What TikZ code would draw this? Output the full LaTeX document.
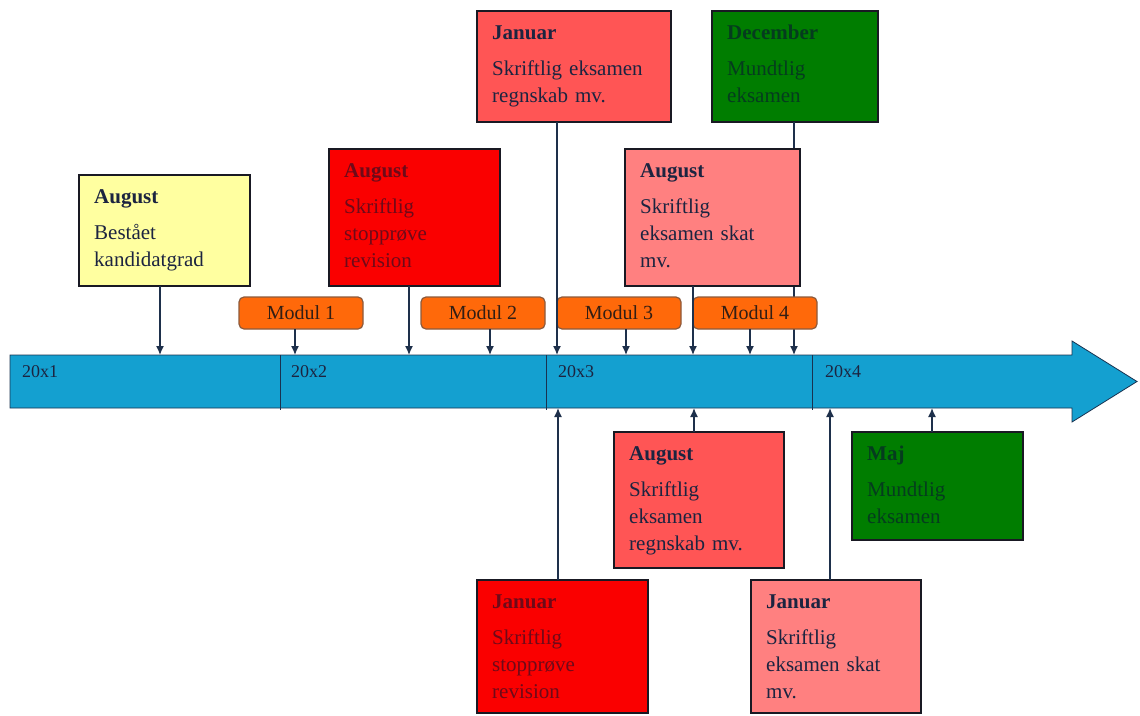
\documentclass[tikz,border=0pt]{standalone}
\usepackage{fontspec}
\setmainfont{Liberation Serif}
\usetikzlibrary{arrows.meta}
\definecolor{barblue}{RGB}{20,160,208}
\definecolor{barline}{RGB}{25,50,80}
\definecolor{arrcol}{RGB}{30,48,75}
\definecolor{boxline}{RGB}{25,25,35}
\definecolor{yel}{RGB}{255,255,160}
\definecolor{red1}{RGB}{250,0,0}
\definecolor{red2}{RGB}{255,85,85}
\definecolor{pink1}{RGB}{255,128,128}
\definecolor{green1}{RGB}{0,125,0}
\definecolor{modorange}{RGB}{255,105,10}
\definecolor{modline}{RGB}{140,90,60}
\definecolor{modtext}{RGB}{50,30,20}
\definecolor{navy}{RGB}{28,36,64}
\definecolor{redtext}{RGB}{110,10,25}
\definecolor{greentext}{RGB}{5,60,30}
\begin{document}
\begin{tikzpicture}[x=1pt,y=-1pt,
  evbox/.style={draw=boxline, line width=1.3pt, anchor=north west, inner sep=0pt, outer sep=0pt},
  evtext/.style={anchor=base west, inner sep=0pt, text width=175pt, align=left, font=\fontsize{21}{27}\selectfont},
  modbox/.style={draw=modline, fill=modorange, rounded corners=5pt, line width=1.2pt, minimum width=124pt, minimum height=32pt, anchor=north west, inner sep=0pt, outer sep=0pt, font=\fontsize{20}{22}\selectfont, text=modtext},
  arr/.style={draw=arrcol, line width=1.4pt, -{Latex[length=9pt,width=8pt]}},
  yearlbl/.style={anchor=west, inner sep=0pt, font=\fontsize{18}{20}\selectfont, text=navy}
]
\useasboundingbox (0,0) rectangle (1140,715);
% timeline bar
\coordinate (bartop) at (0,355);
\coordinate (barbot) at (0,408);
\path[draw=barline, line width=0.8pt, fill=barblue] (10,355) -- (1072,355) -- (1072,341) -- (1137,381.5) -- (1072,422) -- (1072,408) -- (10,408) -- cycle;
\draw[barline, line width=1pt] (280,355) -- (280,410);
\draw[barline, line width=1pt] (546,355) -- (546,410);
\draw[barline, line width=1pt] (812,355) -- (812,410);
\node[yearlbl] (y1) at (22,372) {20x1};
\node[yearlbl] (y2) at (291,372) {20x2};
\node[yearlbl] (y3) at (558,372) {20x3};
\node[yearlbl] (y4) at (825,372) {20x4};

% December (line passes behind other boxes)
\node[evbox, fill=green1, minimum width=166, minimum height=111] (dec) at (712,11) {};
\node[evtext, text=greentext] (dect) at ([xshift=15,yshift=-28]dec.north west) {\textbf{December}\\[9pt]Mundtlig\\eksamen};
\draw[arr] ([xshift=-1]dec.south) -- ([xshift=-1]dec.south |- bartop);

% top boxes
\node[evbox, fill=yel, minimum width=171, minimum height=111] (yel) at (79,175) {};
\node[evtext, text=navy] (yelt) at ([xshift=15,yshift=-28]yel.north west) {\textbf{August}\\[9pt]Bestået\\kandidatgrad};

\node[evbox, fill=red1, minimum width=171, minimum height=137] (reda) at (329,149) {};
\node[evtext, text=redtext] (redat) at ([xshift=15,yshift=-28]reda.north west) {\textbf{August}\\[9pt]Skriftlig\\stopprøve\\revision};

\node[evbox, fill=red2, minimum width=194, minimum height=111] (jant) at (477,11) {};
\node[evtext, text=navy] (jantt) at ([xshift=15,yshift=-28]jant.north west) {\textbf{Januar}\\[9pt]Skriftlig eksamen\\regnskab mv.};

\node[evbox, fill=pink1, minimum width=175, minimum height=137] (pinka) at (625,149) {};
\node[evtext, text=navy] (pinkat) at ([xshift=15,yshift=-28]pinka.north west) {\textbf{August}\\[9pt]Skriftlig\\eksamen skat\\mv.};

% moduler
\node[modbox] (m1) at (239,297) {Modul 1};
\node[modbox] (m2) at (421,297) {Modul 2};
\node[modbox] (m3) at (557,297) {Modul 3};
\node[modbox] (m4) at (693,297) {Modul 4};

% bottom boxes
\node[evbox, fill=red2, minimum width=170, minimum height=136] (augb) at (614,432) {};
\node[evtext, text=navy] (augbt) at ([xshift=15,yshift=-28]augb.north west) {\textbf{August}\\[9pt]Skriftlig\\eksamen\\regnskab mv.};

\node[evbox, fill=red1, minimum width=171, minimum height=133] (janb) at (477,580) {};
\node[evtext, text=redtext] (janbt) at ([xshift=15,yshift=-28]janb.north west) {\textbf{Januar}\\[9pt]Skriftlig\\stopprøve\\revision};

\node[evbox, fill=pink1, minimum width=170, minimum height=133] (pinkj) at (751,580) {};
\node[evtext, text=navy] (pinkjt) at ([xshift=15,yshift=-28]pinkj.north west) {\textbf{Januar}\\[9pt]Skriftlig\\eksamen skat\\mv.};

\node[evbox, fill=green1, minimum width=171, minimum height=108] (maj) at (852,432) {};
\node[evtext, text=greentext] (majt) at ([xshift=15,yshift=-28]maj.north west) {\textbf{Maj}\\[9pt]Mundtlig\\eksamen};

% connectors, top
\draw[arr] ([xshift=-4.5]yel.south) -- ([xshift=-4.5]yel.south |- bartop);
\draw[arr] ([xshift=-5.5]reda.south) -- ([xshift=-5.5]reda.south |- bartop);
\draw[arr] ([xshift=-17]jant.south) -- ([xshift=-17]jant.south |- bartop);
\draw[arr] ([xshift=-19.5]pinka.south) -- ([xshift=-19.5]pinka.south |- bartop);
\draw[arr] ([xshift=-6]m1.south) -- ([xshift=-6]m1.south |- bartop);
\draw[arr] ([xshift=7]m2.south) -- ([xshift=7]m2.south |- bartop);
\draw[arr] ([xshift=7]m3.south) -- ([xshift=7]m3.south |- bartop);
\draw[arr] ([xshift=-5]m4.south) -- ([xshift=-5]m4.south |- bartop);
% connectors, bottom
\draw[arr] ([xshift=-5]augb.north) -- ([xshift=-5]augb.north |- barbot);
\draw[arr] ([xshift=-4.5]janb.north) -- ([xshift=-4.5]janb.north |- barbot);
\draw[arr] ([xshift=-6]pinkj.north) -- ([xshift=-6]pinkj.north |- barbot);
\draw[arr] ([xshift=-5.5]maj.north) -- ([xshift=-5.5]maj.north |- barbot);
\end{tikzpicture}
\end{document}
